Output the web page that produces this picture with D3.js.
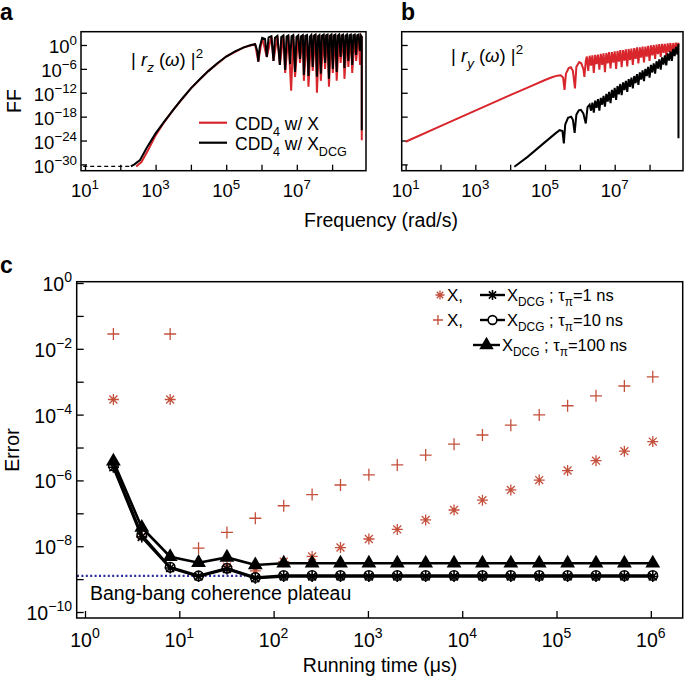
<!DOCTYPE html>
<html><head><meta charset="utf-8">
<script src="https://cdn.jsdelivr.net/npm/d3@7/dist/d3.min.js"></script>
<style>
body{margin:0;background:#fff}
svg{display:block}
text{font-family:"Liberation Sans",Arial,Helvetica,sans-serif}
</style>
</head><body>
<script>
// ---------------- DATA (exponents: [log10 frequency, log10 FF]) ----------------
const freqTickExps = [1,2,3,4,5,6,7,8];
const freqLabelExps = [1,3,5,7];
const ffTickExps = [0,-6,-12,-18,-24,-30];

const rzFloor = [[0.95,-30.5],[2.3,-30.5]];
const rzBlack = [[2.3,-30.5],[2.4,-30.0],[2.56,-28.9],[2.75,-25.8],[3.0,-22.2],[3.25,-19.2],[3.5,-16.3],[3.75,-13.5],[4.0,-10.9],[4.25,-8.6],[4.5,-6.5],[4.75,-4.6],[5.0,-2.9],[5.25,-1.6],[5.5,-0.6],[5.7,0.0],[5.82,0.2],[5.88,-1.5],[5.91,-4.2],[5.95,-0.5],[6.02,1.8],[6.1,1.5],[6.15,-3.0],[6.2,1.9],[6.28,2.2],[6.34,-4.0],[6.38,1.8],[6.45,2.3],[6.52,-5.0],[6.56,2.0],[6.62,2.4],[6.67,-6.3],[6.71,2.1],[6.76,2.4],[6.81,-4.8],[6.85,2.2],[6.9,2.5],[6.95,-6.8],[6.99,2.0],[7.04,2.4],[7.09,-3.5],[7.12,2.2],[7.17,2.5],[7.2,-7.5],[7.24,2.3],[7.29,2.5],[7.33,-7.8],[7.37,2.1],[7.41,2.5],[7.45,-5.5],[7.48,2.3],[7.53,2.6],[7.57,-8.0],[7.6,2.2],[7.64,2.5],[7.68,-7.2],[7.71,2.3],[7.76,2.6],[7.8,-4.5],[7.83,2.4],[7.87,2.6],[7.91,-8.5],[7.94,2.3],[7.98,2.6],[8.02,-6.0],[8.05,2.4],[8.09,2.6],[8.13,-6.8],[8.16,2.3],[8.2,2.6],[8.24,-3.0],[8.27,2.4],[8.31,2.6],[8.35,-5.8],[8.38,2.3],[8.42,2.6],[8.46,-4.0],[8.49,2.4],[8.53,2.6],[8.57,-5.0],[8.6,2.4],[8.64,2.6],[8.68,-2.5],[8.71,2.4],[8.75,2.6],[8.79,-1.5],[8.82,2.3],[8.84,2.0],[8.84,-21.4]];
const rzRed = [[2.45,-30.5],[2.6,-29.4],[2.8,-26.2],[3.0,-22.7],[3.25,-19.3],[3.5,-16.3],[4.0,-10.9],[4.5,-6.5],[5.0,-2.9],[5.5,-0.6],[5.82,0.2],[5.91,-4.2],[6.02,1.8],[6.15,-3.0],[6.28,2.2],[6.34,-4.0],[6.45,2.3],[6.52,-5.0],[6.62,2.4],[6.67,-7.0],[6.76,2.4],[6.84,-11.5],[6.9,2.5],[6.95,-8.0],[7.04,2.4],[7.09,-4.5],[7.17,2.5],[7.2,-9.0],[7.29,2.5],[7.33,-10.5],[7.41,2.5],[7.45,-6.5],[7.53,2.6],[7.57,-12.0],[7.64,2.5],[7.68,-9.0],[7.76,2.6],[7.8,-6.0],[7.87,2.6],[7.91,-10.5],[7.98,2.6],[8.02,-7.0],[8.09,2.6],[8.13,-9.0],[8.2,2.6],[8.24,-4.5],[8.31,2.6],[8.35,-8.5],[8.42,2.6],[8.46,-5.5],[8.53,2.6],[8.57,-7.0],[8.64,2.6],[8.68,-4.0],[8.75,2.6],[8.79,-5.0],[8.82,2.3],[8.84,2.0],[8.84,-23.9]];

const ryRed = [[1.0,-24.3],[2.0,-20.4],[3.0,-16.5],[4.0,-12.6],[4.5,-10.7],[5.0,-8.8],[5.2,-8.1],[5.35,-7.7],[5.45,-7.6],[5.52,-8.2],[5.56,-11.3],[5.6,-7.2],[5.68,-5.8],[5.74,-5.6],[5.8,-6.5],[5.86,-10.9],[5.9,-5.5],[5.98,-4.3],[6.04,-4.6],[6.1,-6.0],[6.13,-8.0],[6.17,-4.0],[6.2,-2.9],[6.24,-6.5],[6.28,-2.7],[6.32,-5.2],[6.36,-2.6],[6.4,-7.0],[6.44,-2.5],[6.48,-4.8],[6.52,-2.4],[6.56,-6.2],[6.6,-2.2],[6.64,-5.0],[6.68,-2.1],[6.72,-6.8],[6.76,-2.0],[6.8,-4.6],[6.84,-1.8],[6.88,-5.9],[6.92,-1.8],[6.96,-4.4],[7.0,-1.6],[7.04,-6.0],[7.08,-1.5],[7.12,-4.2],[7.16,-1.3],[7.2,-5.6],[7.24,-1.3],[7.28,-3.9],[7.32,-1.1],[7.36,-5.4],[7.4,-1.0],[7.44,-3.8],[7.48,-0.9],[7.52,-5.0],[7.56,-0.8],[7.6,-3.5],[7.64,-0.6],[7.68,-4.6],[7.72,-0.6],[7.76,-3.2],[7.8,-0.4],[7.84,-4.4],[7.88,-0.4],[7.92,-2.9],[7.96,-0.2],[8.0,-4.0],[8.04,-0.1],[8.08,-2.6],[8.12,0.0],[8.16,-3.5],[8.2,0.1],[8.24,-2.3],[8.28,0.2],[8.32,-3.0],[8.36,0.3],[8.4,-2.0],[8.44,0.3],[8.48,-2.8],[8.52,0.4],[8.56,-1.7],[8.6,0.5],[8.64,-2.4],[8.68,0.5],[8.72,-1.4],[8.76,0.6],[8.8,-1.8],[8.83,0.6]];
const ryBlack = [[4.12,-30.6],[4.5,-28.1],[5.0,-24.4],[5.3,-22.2],[5.42,-21.4],[5.5,-21.6],[5.54,-24.7],[5.58,-20.0],[5.66,-18.3],[5.75,-18.0],[5.8,-18.8],[5.85,-22.1],[5.9,-17.5],[5.97,-16.4],[6.03,-16.3],[6.1,-17.2],[6.17,-19.7],[6.22,-15.6],[6.28,-15.0],[6.32,-16.5],[6.36,-14.5],[6.4,-17.0],[6.44,-14.0],[6.48,-15.8],[6.52,-13.6],[6.56,-16.5],[6.6,-13.3],[6.64,-15.0],[6.68,-12.8],[6.72,-15.5],[6.76,-12.3],[6.8,-14.2],[6.84,-11.8],[6.88,-14.6],[6.92,-11.3],[6.96,-13.3],[7.0,-10.8],[7.04,-13.8],[7.08,-10.3],[7.12,-12.4],[7.16,-9.8],[7.2,-12.6],[7.24,-9.4],[7.28,-11.3],[7.32,-9.0],[7.36,-11.8],[7.4,-8.6],[7.44,-10.5],[7.48,-8.2],[7.52,-10.9],[7.56,-7.8],[7.6,-9.6],[7.64,-7.3],[7.68,-10.0],[7.72,-6.9],[7.76,-8.7],[7.8,-6.4],[7.84,-9.1],[7.88,-6.0],[7.92,-7.8],[7.96,-5.5],[8.0,-8.2],[8.04,-5.0],[8.08,-6.9],[8.12,-4.6],[8.16,-7.2],[8.2,-4.1],[8.24,-5.9],[8.28,-3.6],[8.32,-6.2],[8.36,-3.1],[8.4,-4.9],[8.44,-2.6],[8.48,-5.1],[8.52,-2.1],[8.56,-3.9],[8.6,-1.6],[8.64,-4.0],[8.68,-1.0],[8.72,-2.8],[8.76,-0.5],[8.8,-2.4],[8.83,0.3],[8.83,-23.4]];

// Panel c : running time (µs) and log10(error)
const runTimes = [2,4,8,16,32,64,128,256,512,1024,2048,4096,8192,16384,32768,65536,131072,262144,524288,1048576];
const errX1ns  = [-3.54,-7.7,-3.54,null,-8.62,-8.75,-8.47,-8.31,-8.04,-7.78,-7.49,-7.2,-6.9,-6.6,-6.29,-5.99,-5.7,-5.4,-5.11,-4.82];
const errX10ns = [-1.55,null,-1.55,-8.06,-7.58,-7.15,-6.77,-6.43,-6.14,-5.83,-5.53,-5.23,-4.9,-4.62,-4.32,-4.01,-3.73,-3.43,-3.13,-2.85];
const errDCG1ns   = [-5.6,-7.72,-8.66,-8.92,-8.69,-8.97,-8.92,-8.92,-8.92,-8.92,-8.92,-8.92,-8.92,-8.92,-8.92,-8.92,-8.92,-8.92,-8.92,-8.92];
const errDCG10ns  = [-5.56,-7.66,-8.64,-8.9,-8.67,-8.95,-8.89,-8.89,-8.89,-8.89,-8.89,-8.89,-8.89,-8.89,-8.89,-8.89,-8.89,-8.89,-8.89,-8.89];
const errDCG100ns = [-5.42,-7.43,-8.32,-8.5,-8.34,-8.57,-8.52,-8.52,-8.52,-8.52,-8.52,-8.52,-8.52,-8.52,-8.52,-8.52,-8.52,-8.52,-8.52,-8.52];
const plateauExp = -8.9;
const plateauRange = [1, 50];
const timeTickExps = [0,1,2,3,4,5,6];
const errTickExps = [0,-1,-2,-3,-4,-5,-6,-7,-8,-9,-10];
const errLabelExps = [0,-2,-4,-6,-8,-10];

// ---------------- DRAWING ----------------
const RED = "#d8262c", MRED = "#c4503c", NAVY = "#2c2c9c";
const svg = d3.select("body").append("svg").attr("width",685).attr("height",679);

function rich(g, x, y, parts, o = {}) {
  const size = o.size || 17;
  const t = g.append("text").attr("x", x).attr("y", y)
    .attr("font-size", size).attr("text-anchor", o.anchor || "start")
    .attr("fill", o.fill || "#000");
  let shift = 0;
  parts.forEach(p => {
    const sp = t.append("tspan").text(p.t);
    const target = p.sup ? -size * 0.45 : p.sub ? size * 0.32 : 0;
    sp.attr("dy", target - shift);
    shift = target;
    if (p.sup || p.sub) sp.attr("font-size", size * 0.72);
    if (p.it) sp.attr("font-style", "italic");
  });
  return t;
}
const sup = s => String(s).replace("-", "\u2212");

// ---- Panels a & b ----
function freqPanel(x0, x1, yTop, yBot, showY) {
  const x = d3.scaleLog().domain([10**0.887, 10**8.96]).range([x0, x1]);
  const y = d3.scaleLog().domain([10**-31.58, 10**3.34]).range([yBot, yTop]);
  const g = svg.append("g");
  const xa = d3.axisBottom(x).tickValues(freqTickExps.map(e => 10**e)).tickSize(-6).tickFormat("");
  const gx = g.append("g").attr("transform", `translate(0,${yBot})`).call(xa);
  gx.select(".domain").remove();
  gx.selectAll("line").attr("stroke", "#000").attr("stroke-width", 1.3);
  freqLabelExps.forEach(e => rich(g, x(10**e), 197, [{t:"10"},{t:sup(e),sup:true}], {size:18.5, anchor:"middle"}));
  const ya = d3.axisLeft(y).tickValues(ffTickExps.map(e => 10**e)).tickSize(-6).tickFormat("");
  const gy = g.append("g").attr("transform", `translate(${x0},0)`).call(ya);
  gy.select(".domain").remove();
  gy.selectAll("line").attr("stroke", "#000").attr("stroke-width", 1.3);
  if (showY) ffTickExps.forEach(e => rich(g, x0 - 4, y(10**e) + 8.5, [{t:"10"},{t:sup(e),sup:true}], {size:18.5, anchor:"end"}));
  const clipId = "clip" + Math.round(x0);
  g.append("clipPath").attr("id", clipId).append("rect").attr("x", x0).attr("y", yTop).attr("width", x1 - x0).attr("height", yBot - yTop);
  const plot = g.append("g").attr("clip-path", `url(#${clipId})`);
  const line = d3.line().x(d => x(10**d[0])).y(d => y(10**d[1]));
  g.append("rect").attr("x", x0).attr("y", yTop).attr("width", x1 - x0).attr("height", yBot - yTop)
    .attr("fill", "none").attr("stroke", "#000").attr("stroke-width", 1.5);
  return {x, y, plot, line, g};
}

const A = freqPanel(81, 366, 31.7, 170.7, true);
A.plot.append("path").attr("d", A.line(rzFloor)).attr("fill","none").attr("stroke","#000").attr("stroke-width",1.2).attr("stroke-dasharray","4,3");
A.plot.append("path").attr("d", A.line(rzRed)).attr("fill","none").attr("stroke",RED).attr("stroke-width",2);
A.plot.append("path").attr("d", A.line(rzBlack)).attr("fill","none").attr("stroke","#000").attr("stroke-width",2);
rich(A.g, 131, 66, [{t:"| "},{t:"r",it:true},{t:"z",sub:true,it:true},{t:" ("},{t:"\u03c9",it:true},{t:") |"},{t:"2",sup:true}], {size:18.5});
A.g.append("line").attr("x1",199).attr("x2",227).attr("y1",122.7).attr("y2",122.7).attr("stroke",RED).attr("stroke-width",2.2);
A.g.append("line").attr("x1",199).attr("x2",227).attr("y1",142.7).attr("y2",142.7).attr("stroke","#000").attr("stroke-width",2.2);
rich(A.g, 235, 130, [{t:"CDD"},{t:"4",sub:true},{t:" w/ X"}], {size:17.5});
rich(A.g, 235, 150, [{t:"CDD"},{t:"4",sub:true},{t:" w/ X"},{t:"DCG",sub:true}], {size:17.5});

const B = freqPanel(401.7, 683, 31.7, 170.7, false);
B.plot.append("path").attr("d", B.line(ryRed)).attr("fill","none").attr("stroke",RED).attr("stroke-width",2);
B.plot.append("path").attr("d", B.line(ryBlack)).attr("fill","none").attr("stroke","#000").attr("stroke-width",2);
rich(B.g, 451, 62, [{t:"| "},{t:"r",it:true},{t:"y",sub:true,it:true},{t:" ("},{t:"\u03c9",it:true},{t:") |"},{t:"2",sup:true}], {size:18.5});

svg.append("text").attr("x", 14).attr("y", 101).attr("transform","rotate(-90,14,101)").attr("text-anchor","middle").attr("dominant-baseline","central").attr("font-size",19.5).text("FF");
svg.append("text").attr("x", 381).attr("y", 227).attr("text-anchor","middle").attr("font-size",19.5).text("Frequency (rad/s)");
svg.append("text").attr("x", 0).attr("y", 20).attr("font-size",23).attr("font-weight","bold").text("a");
svg.append("text").attr("x", 401).attr("y", 20).attr("font-size",23).attr("font-weight","bold").text("b");
svg.append("text").attr("x", 0).attr("y", 273).attr("font-size",23).attr("font-weight","bold").text("c");

// ---- Panel c ----
const cx0 = 76.7, cx1 = 682.7, cyTop = 281.7, cyBot = 618;
const cX = d3.scaleLog().domain([10**-0.088, 10**6.338]).range([cx0, cx1]);
const cY = d3.scaleLog().domain([10**-10.182, 10**0.04]).range([cyBot, cyTop]);
const gc = svg.append("g");
const cxa = d3.axisBottom(cX).tickValues(timeTickExps.map(e => 10**e)).tickSize(-7).tickFormat("");
const gcx = gc.append("g").attr("transform", `translate(0,${cyBot})`).call(cxa);
gcx.select(".domain").remove();
gcx.selectAll("line").attr("stroke","#000").attr("stroke-width",1.3);
timeTickExps.forEach(e => rich(gc, cX(10**e), 647, [{t:"10"},{t:sup(e),sup:true}], {size:19.5, anchor:"middle"}));
const cya = d3.axisLeft(cY).tickValues(errTickExps.map(e => 10**e)).tickSize(-7).tickFormat("");
const gcy = gc.append("g").attr("transform", `translate(${cx0},0)`).call(cya);
gcy.select(".domain").remove();
gcy.selectAll("line").attr("stroke","#000").attr("stroke-width",1.3);
errLabelExps.forEach(e => rich(gc, 72, cY(10**e) + 8, [{t:"10"},{t:sup(e),sup:true}], {size:19.5, anchor:"end"}));

gc.append("clipPath").attr("id","clipc").append("rect").attr("x",cx0).attr("y",cyTop).attr("width",cx1-cx0).attr("height",cyBot-cyTop);
const pc = gc.append("g").attr("clip-path","url(#clipc)");

pc.append("line").attr("x1", cX(plateauRange[0]) - 8).attr("x2", cX(plateauRange[1]))
  .attr("y1", cY(10**plateauExp)).attr("y2", cY(10**plateauExp))
  .attr("stroke", NAVY).attr("stroke-width", 2.2).attr("stroke-dasharray", "2,2.4");

const star = s => { const a = s * 0.72; return `M${-s},0H${s}M0,${-s}V${s}M${-a},${-a}L${a},${a}M${-a},${a}L${a},${-a}`; };
const plus = s => `M${-s},0H${s}M0,${-s}V${s}`;
const pts = arr => runTimes.map((t, i) => [t, arr[i]]).filter(d => d[1] !== null);
const cLine = d3.line().x(d => cX(d[0])).y(d => cY(10**d[1]));

pc.selectAll(".px").data(pts(errX10ns)).join("path").attr("transform", d => `translate(${cX(d[0])},${cY(10**d[1])})`)
  .attr("d", plus(6)).attr("stroke", MRED).attr("stroke-width", 1.3).attr("fill","none");
pc.selectAll(".sx").data(pts(errX1ns)).join("path").attr("transform", d => `translate(${cX(d[0])},${cY(10**d[1])})`)
  .attr("d", star(5.5)).attr("stroke", MRED).attr("stroke-width", 1.3).attr("fill","none");

[[errDCG1ns,"star"],[errDCG10ns,"circle"],[errDCG100ns,"tri"]].forEach(([arr, m]) => {
  const d = pts(arr);
  pc.append("path").attr("d", cLine(d)).attr("fill","none").attr("stroke","#000").attr("stroke-width",2.6);
  const sel = pc.append("g").selectAll("path").data(d).join("path")
    .attr("transform", p => `translate(${cX(p[0])},${cY(10**p[1])})`);
  if (m === "star") sel.attr("d", star(5.5)).attr("stroke","#000").attr("stroke-width",1.6).attr("fill","none");
  if (m === "circle") sel.attr("d", d3.symbol(d3.symbolCircle, 70)()).attr("stroke","#000").attr("stroke-width",1.6).attr("fill","none");
  if (m === "tri") sel.attr("d", d3.symbol(d3.symbolTriangle, 95)()).attr("fill","#000");
});

gc.append("rect").attr("x",cx0).attr("y",cyTop).attr("width",cx1-cx0).attr("height",cyBot-cyTop)
  .attr("fill","none").attr("stroke","#000").attr("stroke-width",1.5);

rich(gc, 90, 600, [{t:"Bang-bang coherence plateau"}], {size:19.5});

const legRows = [
  {y:295, red:"star", rx:440, m:"star", lx0:480, lx1:505, tx:507, tau:"=1 ns"},
  {y:320, red:"plus", rx:438, m:"circle", lx0:480, lx1:505, tx:507, tau:"=10 ns"},
  {y:345, red:null, m:"tri", lx0:473, lx1:500, tx:502, tau:"=100 ns"}
];
legRows.forEach(r => {
  if (r.red) {
    gc.append("path").attr("transform",`translate(${r.rx},${r.y})`).attr("d", r.red === "star" ? star(4.5) : plus(5))
      .attr("stroke", MRED).attr("stroke-width",1.3).attr("fill","none");
    rich(gc, 447, r.y + 6, [{t:"X,"}], {size:17});
  }
  gc.append("line").attr("x1",r.lx0).attr("x2",r.lx1).attr("y1",r.y).attr("y2",r.y).attr("stroke","#000").attr("stroke-width",2.4);
  const mx = (r.lx0 + r.lx1) / 2;
  const mk = gc.append("path").attr("transform",`translate(${mx},${r.y})`);
  if (r.m === "star") mk.attr("d", star(5)).attr("stroke","#000").attr("stroke-width",1.6).attr("fill","none");
  if (r.m === "circle") mk.attr("d", d3.symbol(d3.symbolCircle, 60)()).attr("stroke","#000").attr("stroke-width",1.6).attr("fill","#fff");
  if (r.m === "tri") mk.attr("d", d3.symbol(d3.symbolTriangle, 90)()).attr("fill","#000");
  rich(gc, r.tx, r.y + 6, [{t:"X"},{t:"DCG",sub:true},{t:" ; "},{t:"\u03c4"},{t:"\u03c0",sub:true},{t:r.tau}], {size:16.5});
});

svg.append("text").attr("x", 12).attr("y", 450).attr("transform","rotate(-90,12,450)").attr("text-anchor","middle").attr("dominant-baseline","central").attr("font-size",19.5).text("Error");
svg.append("text").attr("x", 380).attr("y", 672).attr("text-anchor","middle").attr("font-size",19.5).text("Running time (\u03bcs)");
</script>
</body></html>
